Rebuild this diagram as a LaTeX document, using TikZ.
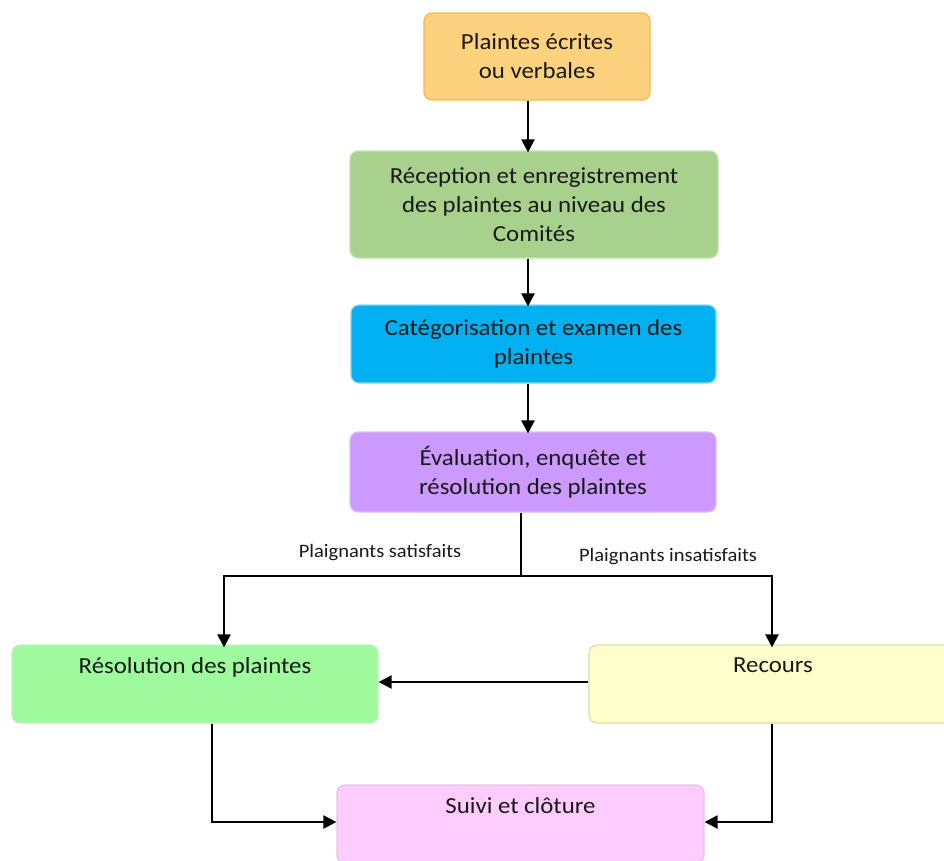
\documentclass[tikz,border=0pt]{standalone}
\usepackage{fontspec}
\setmainfont[FakeStretch=1.08]{Carlito}
\usetikzlibrary{arrows.meta}
\definecolor{orF}{HTML}{FCD27F}\definecolor{orD}{HTML}{F2BA4A}
\definecolor{grF}{HTML}{A9D18E}\definecolor{grD}{HTML}{C6E0B4}
\definecolor{blF}{HTML}{00B0F0}\definecolor{blD}{HTML}{8AD8F5}
\definecolor{puF}{HTML}{CC99FF}\definecolor{puD}{HTML}{DDBBFF}
\definecolor{lgF}{HTML}{9EFA9C}\definecolor{lgD}{HTML}{C2EEC0}
\definecolor{yeF}{HTML}{FFFFCC}\definecolor{yeD}{HTML}{DEDDAE}
\definecolor{piF}{HTML}{FFCCFF}\definecolor{piD}{HTML}{E6C4E6}
\tikzset{
  box/.style={rounded corners=8pt, line width=1.2pt, align=center, inner sep=0pt,
    font=\fontsize{23}{29}\selectfont, text=black!90},
  lbl/.style={font=\fontsize{19}{22}\selectfont, text=black!90},
  arr/.style={line width=2.2pt, -{Triangle[length=13pt,width=13pt]}},
  ln/.style={line width=2.2pt}
}
\begin{document}
\begin{tikzpicture}[x=1pt,y=-1pt]
\useasboundingbox (0,0) rectangle (944,860);
\clip (0,0) rectangle (944,860);
\node[box, fill=orF, draw=orD, minimum width=226pt, minimum height=87pt] (b1) at (537,56.5) {Plaintes écrites\\ou verbales};
\node[box, fill=grF, draw=grD, minimum width=368pt, minimum height=107pt] (b2) at (534,204.5) {Réception et enregistrement\\des plaintes au niveau des\\Comités};
\node[box, fill=blF, draw=blD, minimum width=365pt, minimum height=78pt] (b3) at (533.5,344) {Catégorisation et examen des\\plaintes};
\node[box, fill=puF, draw=puD, minimum width=366pt, minimum height=80pt] (b4) at (533,472) {Évaluation, enquête et\\résolution des plaintes};
\node[box, fill=lgF, draw=lgD, minimum width=366pt, minimum height=78pt] (b5) at (195,684) {Résolution des plaintes\\\strut};
\node[box, fill=yeF, draw=yeD, minimum width=368pt, minimum height=78pt] (b6) at (773,684) {Recours\\\strut};
\node[box, fill=piF, draw=piD, minimum width=367pt, minimum height=78pt] (b7) at (520.5,824) {Suivi et clôture\\\strut};
\node[lbl] (l1) at (380,553) {Plaignants satisfaits};
\node[lbl] (l2) at (668,557) {Plaignants insatisfaits};
\coordinate (cx) at (528,0);
\coordinate (sx) at (521,0);
\coordinate (jn) at (521,576);
\coordinate (lx) at (224,0);
\coordinate (rx) at (772,0);
\coordinate (dl) at (212,0);
\draw[arr] (b1.south -| cx) -- ([yshift=-2pt]b2.north -| cx);
\draw[arr] (b2.south -| cx) -- ([yshift=-2pt]b3.north -| cx);
\draw[arr] (b3.south -| cx) -- ([yshift=-2pt]b4.north -| cx);
\draw[ln] (b4.south -| sx) -- (jn);
\draw[arr] (jn) -| ([yshift=-3pt]b5.north -| lx);
\draw[arr] (jn) -| ([yshift=-3pt]b6.north -| rx);
\draw[arr] ([yshift=2pt]b6.west) -- ([yshift=2pt]b5.east);
\draw[arr] (b5.south -| dl) |- ([yshift=2pt]b7.west);
\draw[arr] (b6.south -| rx) |- ([yshift=2pt]b7.east);
\end{tikzpicture}
\end{document}
